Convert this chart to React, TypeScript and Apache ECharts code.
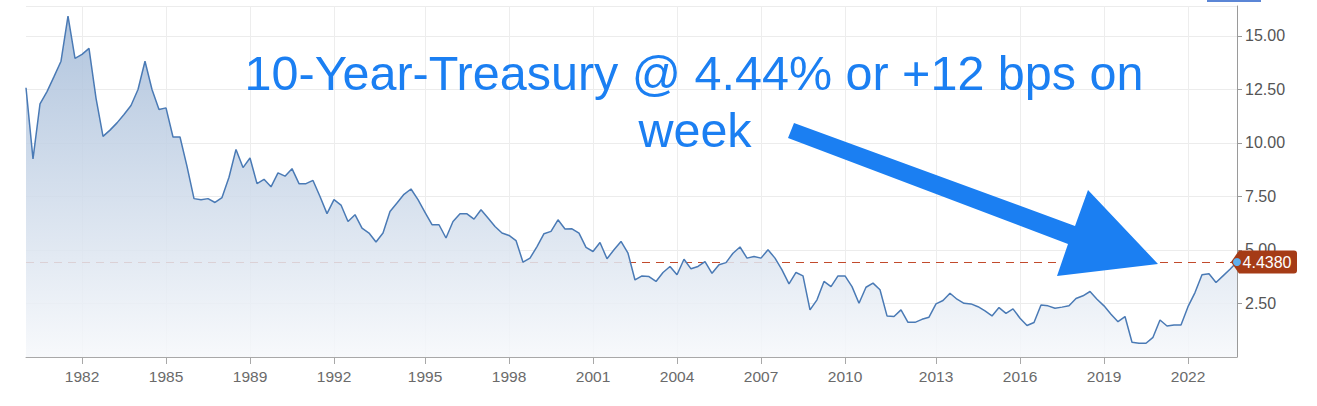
import React, { useEffect, useRef } from 'react';
import * as echarts from 'echarts';

// 10-year Treasury yield, one point per period (ordinal spacing, as in the reference)
const values: number[] = [
  12.58, 9.26, 11.83, 12.4, 13.1, 13.82, 15.93, 13.95, 14.14, 14.42,
  12.1, 10.31, 10.6, 10.94, 11.33, 11.75, 12.5, 13.82, 12.5, 11.56,
  11.64, 10.28, 10.28, 8.91, 7.4, 7.35, 7.4, 7.22, 7.45, 8.4,
  9.7, 8.85, 9.3, 8.1, 8.3, 7.95, 8.6, 8.45, 8.8, 8.1,
  8.1, 8.25, 7.5, 6.7, 7.35, 7.1, 6.33, 6.65, 6.02, 5.79,
  5.37, 5.79, 6.8, 7.2, 7.6, 7.85, 7.35, 6.76, 6.18, 6.18,
  5.56, 6.33, 6.69, 6.69, 6.44, 6.88, 6.49, 6.1, 5.79, 5.68,
  5.44, 4.43, 4.62, 5.16, 5.76, 5.87, 6.41, 5.98, 5.99, 5.79,
  5.12, 4.93, 5.35, 4.59, 5.01, 5.4, 4.85, 3.6, 3.79, 3.76,
  3.53, 3.95, 4.23, 3.84, 4.57, 4.12, 4.23, 4.46, 3.91, 4.31,
  4.41, 4.85, 5.14, 4.62, 4.7, 4.62, 5.01, 4.62, 4.07, 3.42,
  3.95, 3.79, 2.2, 2.67, 3.53, 3.29, 3.79, 3.79, 3.29, 2.51,
  3.26, 3.45, 3.14, 1.92, 1.89, 2.2, 1.62, 1.62, 1.76, 1.86,
  2.48, 2.64, 2.98, 2.7, 2.51, 2.48, 2.35, 2.15, 1.92, 2.31,
  2.04, 2.25, 1.81, 1.47, 1.61, 2.43, 2.39, 2.28, 2.33, 2.39,
  2.73, 2.86, 3.06, 2.7, 2.39, 2.0, 1.65, 1.89, 0.69, 0.64,
  0.64, 0.92, 1.73, 1.45, 1.5, 1.5, 2.35, 3.01, 3.84, 3.89,
  3.48, 3.79, 4.1, 4.438,
];

// x-axis tick labels and the point (category index) each sits on
const tickLabels = ['1982', '1985', '1989', '1992', '1995', '1998', '2001', '2004', '2007', '2010', '2013', '2016', '2019', '2022'];
const tickIndex = [8, 20, 32, 44, 57, 69, 81, 93, 105, 117, 130, 142, 154, 166];

const annotationLine1 = '10-Year-Treasury @ 4.44% or +12 bps on';
const annotationLine2 = 'week';

const FONT = '"Liberation Sans", Arial, sans-serif';
const BLUE = '#1b7ff2';

export default function App() {
  const ref = useRef<HTMLDivElement>(null);

  useEffect(() => {
    if (!ref.current) return;
    const chart = echarts.init(ref.current, null, { renderer: 'svg' });
    const categories = values.map((_, i) => String(i));
    const last = values.length - 1;
    const lastValue = values[last];
    const isTick = (i: number) => tickIndex.indexOf(i) >= 0;

    chart.setOption({
      animation: false,
      backgroundColor: '#ffffff',
      grid: { left: 26, right: 80, top: 6, bottom: 49, containLabel: false, outerBoundsMode: 'none' },
      xAxis: {
        type: 'category',
        data: categories,
        boundaryGap: false,
        axisLine: { show: true, lineStyle: { color: '#a8a8a8', width: 1 } },
        axisTick: { show: true, interval: (i: number) => isTick(i), length: 7, lineStyle: { color: '#a8a8a8' } },
        axisLabel: {
          interval: (i: number) => isTick(i),
          formatter: (_v: string, i: number) => {
            const k = tickIndex.indexOf(i);
            return k >= 0 ? tickLabels[k] : '';
          },
          color: '#6a6a6a',
          fontSize: 15.5,
          fontFamily: FONT,
          margin: 11,
          hideOverlap: false,
        },
        splitLine: { show: true, interval: (i: number) => isTick(i), lineStyle: { color: '#ededed', width: 1 } },
      },
      yAxis: {
        type: 'value',
        position: 'right',
        min: 0,
        max: 16.4,
        interval: 2.5,
        axisLine: { show: true, lineStyle: { color: '#9a9a9a', width: 1 } },
        axisTick: { show: true, length: 5, lineStyle: { color: '#9a9a9a' } },
        axisLabel: {
          showMinLabel: false,
          showMaxLabel: false,
          formatter: (v: number) => v.toFixed(2),
          color: '#555555',
          fontSize: 16,
          fontFamily: FONT,
          margin: 8,
        },
        splitLine: { show: true, lineStyle: { color: '#ececec', width: 1 } },
      },
      series: [
        {
          type: 'line',
          data: values,
          z: 7,
          symbol: 'none',
          showSymbol: false,
          lineStyle: { color: '#4a7ab5', width: 1.5 },
          itemStyle: { color: '#4a7ab5' },
          areaStyle: {
            opacity: 0.86,
            color: new echarts.graphic.LinearGradient(0, 0, 0, 1, [
              { offset: 0, color: '#a4bbd8' },
              { offset: 1, color: '#f6f8fb' },
            ]),
          },
          markLine: {
            silent: true,
            symbol: ['none', 'none'],
            label: { show: false },
            lineStyle: { color: '#c24a2c', type: [8, 6], width: 1 },
            data: [{ yAxis: lastValue }],
          },
        },
        {
          type: 'scatter',
          z: 20,
          silent: true,
          data: [[last, lastValue]],
          symbol: 'path://M0,11.5L8,0L63,0Q66,0,66,3L66,20Q66,23,63,23L8,23Z',
          symbolSize: [66, 23],
          symbolOffset: [27, 0],
          itemStyle: { color: '#a53b16', opacity: 1 },
          label: {
            show: true,
            position: 'inside',
            offset: [3, 0],
            formatter: () => lastValue.toFixed(4),
            color: '#ffffff',
            fontSize: 16,
            fontFamily: FONT,
          },
        },
        {
          type: 'scatter',
          z: 21,
          silent: true,
          data: [[last, lastValue]],
          symbol: 'circle',
          symbolSize: 8,
          itemStyle: { color: '#5fb0ef', opacity: 1 },
          label: { show: false },
        },
      ],
      graphic: [
        { type: 'rect', z: 100, shape: { x: 1207, y: 0, width: 54, height: 2 }, style: { fill: '#5b86d6' } },
        {
          type: 'polygon',
          z: 100,
          shape: {
            points: [[794, 123], [1075, 226], [1088, 190], [1158, 264], [1057, 276], [1068, 244], [788, 138]],
          },
          style: { fill: BLUE },
        },
        {
          type: 'text',
          z: 100,
          x: 694,
          y: 73.4,
          style: { text: annotationLine1, fill: BLUE, font: `48.5px ${FONT}`, align: 'center', verticalAlign: 'middle' },
        },
        {
          type: 'text',
          z: 100,
          x: 695,
          y: 130.4,
          style: { text: annotationLine2, fill: BLUE, font: `48.5px ${FONT}`, align: 'center', verticalAlign: 'middle' },
        },
      ],
    });

    return () => chart.dispose();
  }, []);

  return (
    <div
      ref={ref}
      style={{ position: 'fixed', left: 0, top: 0, width: 1317, height: 406, background: '#fff' }}
    />
  );
}
